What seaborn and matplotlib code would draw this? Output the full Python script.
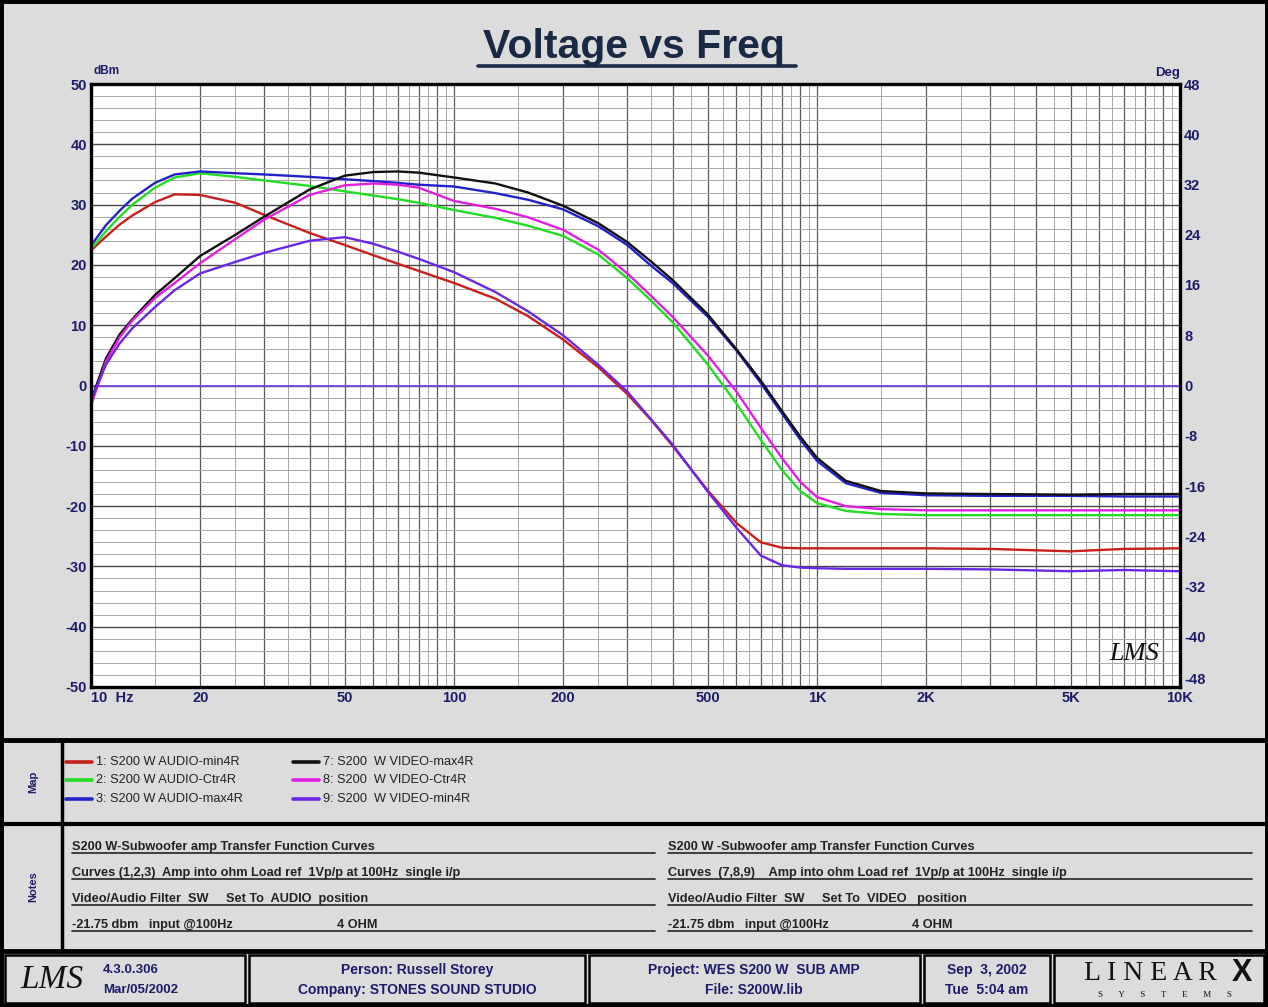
import numpy as np
import pandas as pd
import seaborn as sns
import matplotlib.pyplot as plt
from matplotlib.patches import Rectangle
from matplotlib.lines import Line2D
from matplotlib.ticker import FixedLocator, FuncFormatter

# --- data (Hz, dBm) ---
freq = [10, 11, 12, 13, 15, 17, 20, 25, 30, 40, 50, 60, 70, 80, 100, 130, 160,
        200, 250, 300, 350, 400, 500, 600, 700, 800, 900, 1000, 1200, 1500,
        2000, 3000, 5000, 7000, 10000]

audio_min4r = [22.4, 24.7, 26.7, 28.2, 30.4, 31.7, 31.6, 30.3, 28.3, 25.3, 23.3, 21.6,
               20.2, 19.0, 17.0, 14.4, 11.5, 7.6, 3.0, -1.4, -5.8, -10.0, -17.4, -22.8,
               -26.0, -26.9, -27.0, -27.0, -27.0, -27.0, -27.0, -27.1, -27.5, -27.1, -27.0]
audio_ctr4r = [22.6, 25.6, 28.0, 30.0, 32.8, 34.5, 35.2, 34.6, 34.0, 33.1, 32.2, 31.5,
               30.9, 30.3, 29.1, 27.8, 26.5, 24.8, 21.7, 17.8, 14.0, 10.5, 3.5, -3.0,
               -9.0, -14.0, -17.5, -19.5, -20.8, -21.3, -21.5, -21.5, -21.5, -21.5, -21.5]
audio_max4r = [23.2, 26.6, 29.0, 31.0, 33.6, 35.0, 35.5, 35.2, 35.0, 34.6, 34.2, 33.9,
               33.6, 33.3, 33.0, 31.9, 30.8, 29.2, 26.4, 23.3, 19.8, 17.0, 11.4, 5.8,
               0.4, -4.6, -9.0, -12.5, -16.2, -17.8, -18.2, -18.3, -18.3, -18.4, -18.4]
video_max4r = [-2.5, 4.5, 8.5, 11.0, 15.0, 17.8, 21.5, 25.0, 28.0, 32.5, 34.8, 35.4,
               35.5, 35.3, 34.5, 33.5, 32.0, 29.8, 26.9, 23.8, 20.5, 17.5, 11.8, 6.0,
               0.8, -4.2, -8.5, -12.0, -15.8, -17.5, -17.9, -18.0, -18.1, -18.0, -18.0]
video_ctr4r = [-3.3, 4.0, 8.0, 10.8, 14.5, 17.0, 20.3, 24.3, 27.5, 31.6, 33.2, 33.5,
               33.3, 32.8, 30.6, 29.3, 27.9, 25.8, 22.5, 18.6, 14.8, 11.4, 5.0, -1.0,
               -7.0, -12.0, -16.0, -18.5, -20.0, -20.5, -20.7, -20.7, -20.7, -20.7, -20.7]
video_min4r = [-2.5, 3.5, 7.0, 9.5, 13.0, 15.8, 18.6, 20.5, 22.0, 24.0, 24.6, 23.5,
               22.2, 21.0, 18.8, 15.5, 12.3, 8.3, 3.4, -1.0, -5.7, -9.8, -17.6, -23.6,
               -28.2, -29.8, -30.2, -30.3, -30.4, -30.4, -30.4, -30.5, -30.8, -30.6, -30.8]

curve_names = ["1: S200 W AUDIO-min4R", "2: S200 W AUDIO-Ctr4R", "3: S200 W AUDIO-max4R",
               "7: S200  W VIDEO-max4R", "8: S200  W VIDEO-Ctr4R", "9: S200  W VIDEO-min4R"]
curve_vals = [audio_min4r, audio_ctr4r, audio_max4r, video_max4r, video_ctr4r, video_min4r]
curve_colors = ["#c8201c", "#22dd22", "#2222c8", "#111111", "#e020e0", "#6a28e6"]

x_labels = {10: "10  Hz", 20: "20", 50: "50", 100: "100", 200: "200", 500: "500",
            1000: "1K", 2000: "2K", 5000: "5K", 10000: "10K"}

notes_left = ["S200 W-Subwoofer amp Transfer Function Curves",
              "Curves (1,2,3)  Amp into ohm Load ref  1Vp/p at 100Hz  single i/p",
              "Video/Audio Filter  SW     Set To  AUDIO  position",
              "-21.75 dbm   input @100Hz"]
notes_right = ["S200 W -Subwoofer amp Transfer Function Curves",
               "Curves  (7,8,9)    Amp into ohm Load ref  1Vp/p at 100Hz  single i/p",
               "Video/Audio Filter  SW     Set To  VIDEO   position",
               "-21.75 dbm   input @100Hz"]

df = pd.concat([pd.DataFrame({"freq": freq, "level": v, "curve": n})
                for n, v in zip(curve_names, curve_vals)], ignore_index=True)

sns.set_style("white")
plt.rcParams["font.family"] = ["Liberation Sans Narrow", "Liberation Sans", "DejaVu Sans"]
plt.rcParams["axes.unicode_minus"] = False

W, H = 1268, 1007
fig = plt.figure(figsize=(W / 100, H / 100), dpi=100)
fig.patch.set_facecolor("#dcdcdc")

NAVY = "#1c1c6a"


def fx(px):
    return px / W


def fy(py):
    return 1 - py / H


def hline(y, x0, x1, lw=2.5, color="black"):
    fig.add_artist(Line2D([fx(x0), fx(x1)], [fy(y), fy(y)], color=color, lw=lw,
                          transform=fig.transFigure))


def vline(x, y0, y1, lw=2.5, color="black"):
    fig.add_artist(Line2D([fx(x), fx(x)], [fy(y0), fy(y1)], color=color, lw=lw,
                          transform=fig.transFigure))


# --- main plot ---
ax = fig.add_axes([fx(91), fy(687), fx(1180) - fx(91), fy(84) - fy(687)])
ax.set_facecolor("white")
sns.lineplot(data=df, x="freq", y="level", hue="curve", palette=dict(zip(curve_names, curve_colors)),
             hue_order=curve_names, estimator=None, sort=False, lw=1.7, legend=False, ax=ax)
ax.axhline(0, color="#7a44e0", lw=1.3, zorder=1.5)

ax.set_xscale("log")
ax.set_xlim(10, 10000)
ax.set_ylim(-50, 50)

major_x = [k * 10 ** d for d in (1, 2, 3) for k in range(1, 10)] + [10000]
minor_x = [(k + 0.5) * 10 ** d for d in (1, 2, 3) for k in range(1, 10)]
ax.xaxis.set_major_locator(FixedLocator(major_x))
ax.xaxis.set_minor_locator(FixedLocator(minor_x))
ax.xaxis.set_major_formatter(FuncFormatter(lambda v, p: x_labels.get(int(round(v)), "")))
ax.xaxis.set_minor_formatter(FuncFormatter(lambda v, p: ""))
ax.yaxis.set_major_locator(FixedLocator(list(range(-50, 51, 10))))
ax.yaxis.set_minor_locator(FixedLocator(list(range(-50, 51, 2))))

ax.grid(which="major", axis="x", color="#5a5a5a", lw=0.9)
ax.grid(which="minor", axis="x", color="#a8a8a8", lw=0.7)
ax.grid(which="major", axis="y", color="#4a4a4a", lw=1.0)
ax.grid(which="minor", axis="y", color="#a8a8a8", lw=0.7)
ax.set_axisbelow(True)
ax.tick_params(which="both", length=0)
ax.tick_params(axis="both", labelsize=10.5, labelcolor=NAVY, pad=3)
for lab in ax.get_xticklabels() + ax.get_yticklabels():
    lab.set_fontweight("bold")
ax.set_xlabel("")
ax.set_ylabel("")
for s in ax.spines.values():
    s.set_color("black")
    s.set_linewidth(2.4)
    s.set_visible(True)

fig.canvas.draw()
for lab in ax.get_xticklabels():
    if lab.get_text().startswith("10  Hz"):
        lab.set_horizontalalignment("left")

ax2 = ax.twinx()
ax2.set_ylim(-48, 48)
ax2.yaxis.set_major_locator(FixedLocator(list(range(-48, 49, 8))))
ax2.tick_params(length=0, labelsize=10.5, labelcolor=NAVY, pad=3)
fig.canvas.draw()
for lab in ax2.get_yticklabels():
    lab.set_fontweight("bold")
    if lab.get_text() == "-48":
        lab.set_verticalalignment("bottom")
ax2.grid(False)
for s in ax2.spines.values():
    s.set_visible(False)

fig.text(fx(93), fy(74), "dBm", fontsize=8.5, fontweight="bold", color=NAVY, ha="left", va="baseline")
fig.text(fx(1180), fy(76), "Deg", fontsize=9.5, fontweight="bold", color=NAVY, ha="right", va="baseline")
ax.text(0.958, 0.055, "LMS", transform=ax.transAxes, fontsize=19, fontstyle="italic",
        family=["Liberation Serif", "DejaVu Serif"], color="#111111", ha="center", va="center")

# title
fig.text(0.5, fy(47), "Voltage vs Freq", fontsize=29.5, fontweight="bold",
         family=["Liberation Sans", "DejaVu Sans"], color="#1b2a44", ha="center", va="center")
hline(66, 478, 796, lw=2.6, color="#1b2a44")

# --- panel frames ---
fig.add_artist(Rectangle((0, 0), 1, 1, fill=False, ec="black", lw=5, transform=fig.transFigure))
hline(740, 0, W, lw=3.5)
hline(824, 0, W, lw=3)
hline(951, 0, W, lw=3.5)
vline(62, 740, 951, lw=2.5)

# map panel (legend)
fig.text(fx(33), fy(782), "Map", rotation=90, fontsize=8, fontweight="bold", color=NAVY,
         ha="center", va="center")
rows_y = [762, 780, 799]
for i, (n, c) in enumerate(zip(curve_names, curve_colors)):
    col, row = divmod(i, 3)
    x0 = 66 + col * 227
    hline(rows_y[row], x0, x0 + 26, lw=2.6, color=c)
    fig.text(fx(x0 + 30), fy(rows_y[row]), n, fontsize=9.2, color="#222222", ha="left", va="center")

# notes panel
fig.text(fx(33), fy(887), "Notes", rotation=90, fontsize=8, fontweight="bold", color=NAVY,
         ha="center", va="center")
note_y = [850, 876, 902, 928]
for i in range(4):
    fig.text(fx(72), fy(note_y[i]), notes_left[i], fontsize=9.2, fontweight="bold", color="#222222",
             ha="left", va="baseline")
    fig.text(fx(668), fy(note_y[i]), notes_right[i], fontsize=9.2, fontweight="bold", color="#222222",
             ha="left", va="baseline")
    hline(note_y[i] + 3, 72, 655, lw=1.3, color="#333333")
    hline(note_y[i] + 3, 668, 1252, lw=1.3, color="#333333")
fig.text(fx(337), fy(note_y[3]), "4 OHM", fontsize=9.2, fontweight="bold", color="#222222",
         ha="left", va="baseline")
fig.text(fx(912), fy(note_y[3]), "4 OHM", fontsize=9.2, fontweight="bold", color="#222222",
         ha="left", va="baseline")

# footer boxes
boxes = [(5, 245), (249, 585), (589, 920), (924, 1050), (1054, 1264)]
for x0, x1 in boxes:
    fig.add_artist(Rectangle((fx(x0), fy(1003)), fx(x1) - fx(x0), fy(955) - fy(1003), fill=False,
                             ec="black", lw=1.8, transform=fig.transFigure))
fig.text(fx(52), fy(980), "LMS", fontsize=24, fontstyle="italic",
         family=["Liberation Serif", "DejaVu Serif"], color="#111111", ha="center", va="center")
fig.text(fx(103), fy(970), "4.3.0.306", fontsize=9.5, fontweight="bold", color=NAVY, ha="left", va="center")
fig.text(fx(103), fy(990), "Mar/05/2002", fontsize=9.5, fontweight="bold", color=NAVY, ha="left", va="center")
footer = [(417, "Person: Russell Storey", "Company: STONES SOUND STUDIO"),
          (754, "Project: WES S200 W  SUB AMP", "File: S200W.lib"),
          (987, "Sep  3, 2002", "Tue  5:04 am")]
for cx, t1, t2 in footer:
    fig.text(fx(cx), fy(970), t1, fontsize=10, fontweight="bold", color=NAVY, ha="center", va="center")
    fig.text(fx(cx), fy(990), t2, fontsize=10, fontweight="bold", color=NAVY, ha="center", va="center")
fig.text(fx(1150), fy(973), "L I N E A R", fontsize=20, family=["Liberation Serif", "DejaVu Serif"],
         color="#111111", ha="center", va="center")
fig.text(fx(1242), fy(973), "X", fontsize=22, fontweight="bold", family=["Liberation Sans", "DejaVu Sans"],
         color="#111111", ha="center", va="center")
fig.text(fx(1165), fy(995), "S       Y       S       T       E       M       S", fontsize=6.5,
         family=["Liberation Serif", "DejaVu Serif"], color="#111111", ha="center", va="center")

fig.savefig("out.png", dpi=100, facecolor=fig.get_facecolor())
